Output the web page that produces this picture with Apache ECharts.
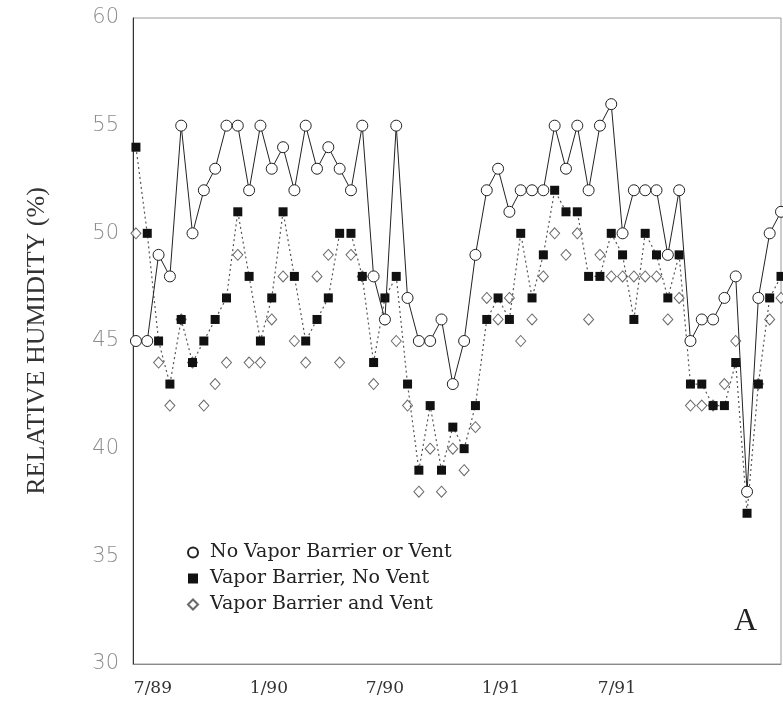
<!DOCTYPE html>
<html>
<head>
<meta charset="utf-8">
<script src="https://cdn.jsdelivr.net/npm/echarts@6/dist/echarts.min.js"></script>
<style>
  html, body { margin: 0; padding: 0; background: #fff; }
  #chart { width: 783px; height: 702px; }
</style>
</head>
<body>
<div id="chart"></div>
<script>
// relative humidity readings, one per sampling date (left to right)
const noBarrier = [45, 45, 49, 48, 55, 50, 52, 53, 55, 55, 52, 55, 53, 54, 52, 55, 53, 54, 53, 52,
  55, 48, 46, 55, 47, 45, 45, 46, 43, 45, 49, 52, 53, 51, 52, 52, 52, 55, 53, 55,
  52, 55, 56, 50, 52, 52, 52, 49, 52, 45, 46, 46, 47, 48, 38, 47, 50, 51]
const barrierNoVent = [54, 50, 45, 43, 46, 44, 45, 46, 47, 51, 48, 45, 47, 51, 48, 45, 46, 47, 50, 50,
  48, 44, 47, 48, 43, 39, 42, 39, 41, 40, 42, 46, 47, 46, 50, 47, 49, 52, 51, 51,
  48, 48, 50, 49, 46, 50, 49, 47, 49, 43, 43, 42, 42, 44, 37, 43, 47, 48]
const barrierVent = [50, 45, 44, 42, 46, 44, 42, 43, 44, 49, 44, 44, 46, 48, 45, 44, 48, 49, 44, 49,
  48, 43, 46, 45, 42, 38, 40, 38, 40, 39, 41, 47, 46, 47, 45, 46, 48, 50, 49, 50,
  46, 49, 48, 48, 48, 48, 48, 46, 47, 42, 42, 42, 43, 45, 38, 43, 46, 47]

const seriesNames = ['No Vapor Barrier or Vent', 'Vapor Barrier, No Vent', 'Vapor Barrier and Vent']
const tickLabels = ['7/89', '1/90', '7/90', '1/91', '7/91']
// where each month label sits, in sample-index units
const tickAt = [1.5, 11.75, 22, 32.25, 42.5]

function pairs(arr) {
  return arr.map((v, i) => [i, v])
}

let chart = echarts.init(document.getElementById('chart'))
chart.setOption({
  backgroundColor: '#fff',
  animation: false,
  grid: {
    left: 133,
    right: 2,
    top: 18,
    bottom: 38,
    show: true,
    borderColor: '#9a9a9a',
    borderWidth: 1,
  },
  xAxis: {
    type: 'value',
    min: -0.26,
    max: 57,
    splitLine: { show: false },
    axisLine: { onZero: false, lineStyle: { color: '#8a8a8a', width: 1 } },
    axisTick: { show: false },
    axisLabel: {
      customValues: tickAt,
      formatter: function (val) {
        let k = tickAt.indexOf(val)
        return k >= 0 ? tickLabels[k] : ''
      },
      margin: 16,
      color: '#333',
      fontFamily: 'DejaVu Serif',
      fontSize: 17,
    },
  },
  yAxis: {
    type: 'value',
    min: 30,
    max: 60,
    interval: 5,
    name: 'RELATIVE HUMIDITY (%)',
    nameLocation: 'middle',
    nameGap: 83,
    nameTextStyle: {
      color: '#333',
      fontFamily: 'Liberation Serif',
      fontSize: 26,
    },
    splitLine: { show: false },
    axisLine: { show: true, onZero: false, lineStyle: { color: '#333', width: 1 } },
    axisTick: { show: false },
    axisLabel: {
      margin: 14,
      color: '#8c8c8c',
      fontFamily: 'DejaVu Sans',
      fontWeight: 'lighter',
      fontSize: 21,
    },
  },
  legend: {
    orient: 'vertical',
    left: 182,
    top: 537,
    itemWidth: 10,
    itemHeight: 10,
    itemGap: 5,
    textStyle: {
      color: '#222',
      fontFamily: 'DejaVu Serif',
      fontSize: 19,
      lineHeight: 21,
      padding: [0, 0, 0, 7],
    },
    data: [
      { name: seriesNames[0], icon: 'circle' },
      { name: seriesNames[1], icon: 'rect', itemStyle: { color: '#111' } },
      { name: seriesNames[2], icon: 'diamond' },
    ],
  },
  graphic: [
    {
      type: 'text',
      left: 734,
      top: 606,
      style: {
        text: 'A',
        fill: '#222',
        font: '32px "Liberation Serif"',
      },
    },
  ],
  series: [
    {
      name: seriesNames[1],
      type: 'line',
      data: pairs(barrierNoVent),
      symbol: 'rect',
      symbolSize: 9,
      itemStyle: { color: '#111' },
      lineStyle: { color: '#555', width: 1.2, type: [2, 3] },
      z: 3,
    },
    {
      name: seriesNames[2],
      type: 'scatter',
      data: pairs(barrierVent),
      symbol: 'diamond',
      symbolSize: [10, 11],
      itemStyle: { color: '#fff', borderColor: '#444', borderWidth: 1 },
      z: 2,
    },
    {
      name: seriesNames[0],
      type: 'line',
      data: pairs(noBarrier),
      symbol: 'circle',
      symbolSize: 11,
      itemStyle: { color: '#fff', borderColor: '#222', borderWidth: 1 },
      lineStyle: { color: '#222', width: 1 },
      z: 4,
    },
  ],
})
</script>
</body>
</html>
